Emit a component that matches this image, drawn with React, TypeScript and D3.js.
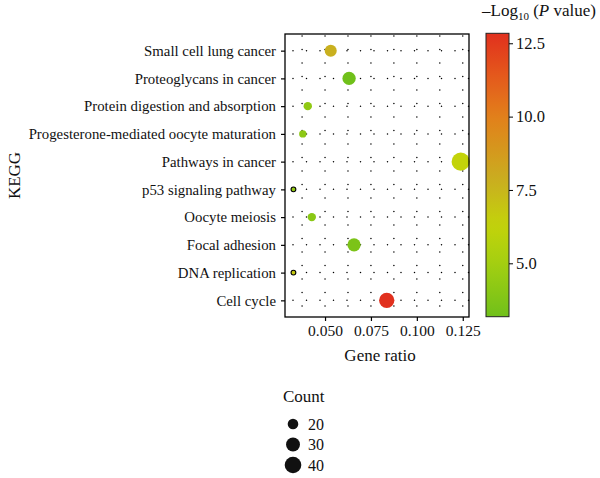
import React, { useEffect, useRef } from 'react'
import * as d3 from 'd3'

const pathways = [
  'Small cell lung cancer',
  'Proteoglycans in cancer',
  'Protein digestion and absorption',
  'Progesterone-mediated oocyte maturation',
  'Pathways in cancer',
  'p53 signaling pathway',
  'Oocyte meiosis',
  'Focal adhesion',
  'DNA replication',
  'Cell cycle',
]
const geneRatio = [0.0531, 0.0631, 0.0406, 0.0379, 0.1239, 0.0328, 0.0428, 0.0658, 0.0328, 0.0836]
const counts = [24, 28, 15, 13, 47, 10, 15, 28, 10, 35]
const logP = [7.7, 3.18, 4.3, 4.2, 6.3, 4.4, 4.1, 3.6, 6.7, 12.84]

const xTicks = [0.05, 0.075, 0.1, 0.125]
const xMinor = [0.0375, 0.0625, 0.0875, 0.1125]
const colorTicks = [5.0, 7.5, 10.0, 12.5]
const sizeLegend = [20, 30, 40]

const FONT = '"Liberation Serif", "Times New Roman", serif'

export default function App() {
  const ref = useRef<SVGSVGElement | null>(null)

  useEffect(() => {
    const svg = d3.select(ref.current)
    svg.selectAll('*').remove()

    const left = 285, right = 469, top = 34, bottom = 317

    const x = d3.scaleLinear().domain([0.0282, 0.1284]).range([left, right])
    const y = d3.scalePoint<string>().domain(pathways).range([top, bottom]).padding(0.6)

    const cExtent = d3.extent(logP) as [number, number]
    const color = d3.scaleLinear<string>()
      .domain([3.18, 5, 6.3, 7.8, 10, 11.6, 12.84])
      .range(['#70c01a', '#a4cf11', '#c3d30a', '#c9ae20', '#e2801b', '#e4531c', '#e1301e'])
      .interpolate(d3.interpolateRgb)

    // area-style size mapping fitted on the legend keys
    const area = d3.scaleLinear().domain([20, 40]).range([28, 69])
    const rad = (c: number) => Math.sqrt(Math.max(area(c), 4))

    const g = svg.append('g')

    // dotted grid
    const grid = g.append('g').attr('stroke', '#000').attr('stroke-width', 1.5)
      .attr('stroke-linecap', 'round').attr('stroke-dasharray', '0 13.5')
    pathways.forEach(p => {
      grid.append('line').attr('x1', left + 8).attr('x2', right).attr('y1', y(p)!).attr('y2', y(p)!)
    })
    xTicks.concat(xMinor).forEach(t => {
      grid.append('line').attr('x1', x(t)).attr('x2', x(t)).attr('y1', top + 2).attr('y2', bottom)
    })

    // points
    const idx = d3.range(pathways.length)
    g.append('g').selectAll('circle').data(idx).join('circle')
      .attr('cx', i => x(geneRatio[i]))
      .attr('cy', i => y(pathways[i])!)
      .attr('r', i => counts[i] <= 10 ? 2.4 : rad(counts[i]))
      .attr('fill', i => color(logP[i]))
      .attr('stroke', i => counts[i] <= 10 ? '#000' : 'none')
      .attr('stroke-width', 1.1)

    // panel border
    g.append('rect').attr('x', left).attr('y', top).attr('width', right - left).attr('height', bottom - top)
      .attr('fill', 'none').attr('stroke', '#000').attr('stroke-width', 1.3)

    // axes
    const ay = g.append('g').attr('transform', `translate(${left},0)`)
      .call(d3.axisLeft(y).tickSize(4).tickPadding(5))
    ay.select('.domain').remove()
    ay.selectAll('line').attr('stroke-width', 1.2)
    ay.selectAll('text').attr('font-family', FONT).attr('font-size', 14.8).attr('fill', '#111')

    const ax = g.append('g').attr('transform', `translate(0,${bottom})`)
      .call(d3.axisBottom(x).tickValues(xTicks).tickFormat(d3.format('.3f')).tickSize(4).tickPadding(4))
    ax.select('.domain').remove()
    ax.selectAll('line').attr('stroke-width', 1.2)
    ax.selectAll('text').attr('font-family', FONT).attr('font-size', 15.5).attr('fill', '#111')

    g.append('text').attr('x', (left + right) / 2 + 3).attr('y', 361).attr('text-anchor', 'middle')
      .attr('font-family', FONT).attr('font-size', 17).attr('fill', '#111').text('Gene ratio')
    g.append('text').attr('transform', `translate(20,${(top + bottom) / 2}) rotate(-90)`).attr('text-anchor', 'middle')
      .attr('font-family', FONT).attr('font-size', 17).attr('fill', '#111').text('KEGG')

    // colour bar
    const cbL = 486, cbW = 23, cbT = 33.3, cbB = 316.7
    const cy = d3.scaleLinear().domain(cExtent).range([cbB, cbT])
    const grad = svg.append('defs').append('linearGradient').attr('id', 'cb')
      .attr('x1', 0).attr('x2', 0).attr('y1', 1).attr('y2', 0)
    d3.range(0, 1.0001, 0.05).forEach(t => {
      grad.append('stop').attr('offset', t).attr('stop-color', color(cExtent[0] + t * (cExtent[1] - cExtent[0])))
    })
    g.append('rect').attr('x', cbL).attr('y', cbT).attr('width', cbW).attr('height', cbB - cbT)
      .attr('fill', 'url(#cb)').attr('stroke', '#222').attr('stroke-width', 1)
    const ac = g.append('g').attr('transform', `translate(${cbL + cbW},0)`)
      .call(d3.axisRight(cy).tickValues(colorTicks).tickFormat(d3.format('.1f')).tickSize(4).tickPadding(3))
    ac.select('.domain').remove()
    ac.selectAll('text').attr('font-family', FONT).attr('font-size', 16.5).attr('fill', '#111')

    const title = g.append('text').attr('x', 482).attr('y', 16).attr('font-family', FONT)
      .attr('font-size', 17).attr('fill', '#111')
    title.append('tspan').text('\u2013Log')
    title.append('tspan').attr('font-size', 11).attr('dy', 4).text('10')
    title.append('tspan').attr('dy', -4).text(' (')
    title.append('tspan').attr('font-style', 'italic').text('P')
    title.append('tspan').text(' value)')

    // size legend
    const lg = g.append('g')
    lg.append('text').attr('x', 283).attr('y', 402).attr('font-family', FONT).attr('font-size', 17)
      .attr('fill', '#111').text('Count')
    const ly = d3.scalePoint<number>().domain(sizeLegend).range([424, 465])
    sizeLegend.forEach(c => {
      lg.append('circle').attr('cx', 293).attr('cy', ly(c)!).attr('r', rad(c)).attr('fill', '#111')
      lg.append('text').attr('x', 308).attr('y', ly(c)! + 5.5).attr('font-family', FONT).attr('font-size', 16)
        .attr('fill', '#111').text(c)
    })
  }, [])

  return (
    <svg ref={ref} width={600} height={478} style={{ position: 'absolute', left: 0, top: 0, background: '#fff' }} />
  )
}
